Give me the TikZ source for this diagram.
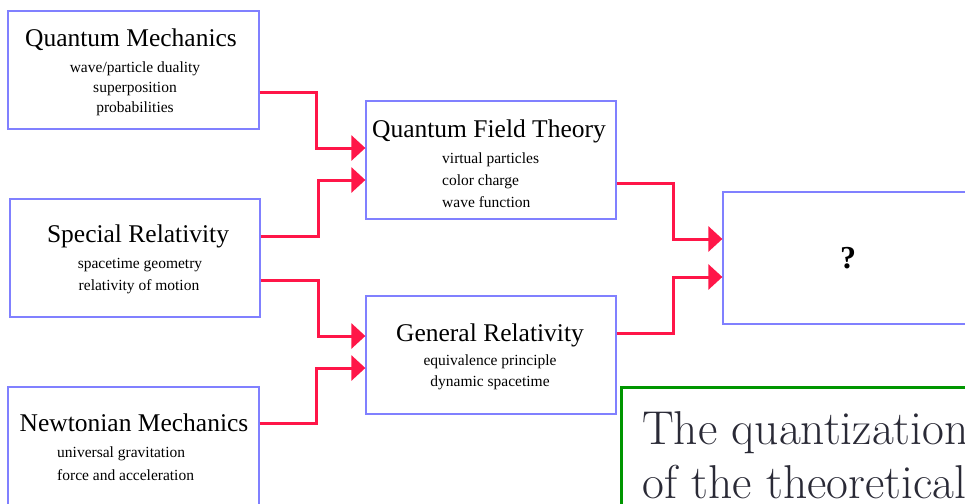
\documentclass[tikz,border=0pt]{standalone}
\usepackage{fontspec}
\newfontfamily\boxfont{Liberation Serif}
\usetikzlibrary{arrows.meta,calc}
\definecolor{boxblue}{RGB}{128,128,255}
\definecolor{linkred}{RGB}{255,22,72}
\definecolor{notegreen}{RGB}{0,150,0}
\definecolor{notetext}{RGB}{42,42,54}
\begin{document}
\begin{tikzpicture}[x=1pt,y=1pt,
  card/.style={draw=boxblue, line width=1.3pt, minimum height=118pt, inner sep=0pt},
  ttl/.style={anchor=base, inner sep=0pt, font=\boxfont\fontsize{25.5}{30}\selectfont},
  sub/.style={anchor=base, inner sep=0pt, font=\boxfont\fontsize{15.5}{20}\selectfont},
  subl/.style={sub, anchor=base west},
  link/.style={draw=linkred, line width=3pt, -{Triangle[length=14pt,width=25pt]}},
  notetxt/.style={anchor=base west, inner sep=0pt, text=notetext, font=\fontsize{47.5}{54}\selectfont}]
\useasboundingbox (0,0) rectangle (965,-503);

% boxes
\node[card, minimum width=251pt] (qm) at (133.5,-70) {};
\node[card, minimum width=250pt] (sr) at (135,-258) {};
\node[card, minimum width=251pt] (nm) at (133.5,-446) {};
\node[card, minimum width=250pt] (qft) at (491,-160) {};
\node[card, minimum width=250pt] (gr) at (491,-355) {};
\node[card, minimum width=250pt, minimum height=132pt,
      font=\boxfont\bfseries\fontsize{32}{32}\selectfont] (qq) at (848,-258) {?};

% Quantum Mechanics
\node[ttl] (qmt) at (131,-47) {Quantum Mechanics};
\node[sub] (qm1) at (135,-72) {wave/particle duality};
\node[sub] (qm2) at (135,-92) {superposition};
\node[sub] (qm3) at (135,-112) {probabilities};

% Special Relativity
\node[ttl] (srt) at (138,-242) {Special Relativity};
\node[sub] (sr1) at (140,-268) {spacetime geometry};
\node[sub] (sr2) at (139,-290) {relativity of motion};

% Newtonian Mechanics
\node[ttl] (nmt) at (134,-431) {Newtonian Mechanics};
\node[subl] (nm1) at (57,-457) {universal gravitation};
\node[subl] (nm2) at (57,-480) {force and acceleration};

% Quantum Field Theory
\node[ttl] (qftt) at (489,-137) {Quantum Field Theory};
\node[subl] (qft1) at (442,-163) {virtual particles};
\node[subl] (qft2) at (442,-185) {color charge};
\node[subl] (qft3) at (442,-207) {wave function};

% General Relativity
\node[ttl] (grt) at (490,-341) {General Relativity};
\node[sub] (gr1) at (490,-365) {equivalence principle};
\node[sub] (gr2) at (490,-386) {dynamic spacetime};

% connectors
\draw[link] ([yshift=-22pt]qm.east) -- ++(57,0) |- ([yshift=12pt]qft.west);
\draw[link] ([yshift=22pt]sr.east) -- ++(58,0) |- ([yshift=-20pt]qft.west);
\draw[link] ([yshift=-22pt]sr.east) -- ++(58,0) |- ([yshift=19pt]gr.west);
\draw[link] ([yshift=23pt]nm.east) -- ++(57,0) |- ([yshift=-13pt]gr.west);
\draw[link] ([yshift=-23pt]qft.east) -- ++(57,0) |- ([yshift=19pt]qq.west);
\draw[link] ([yshift=22pt]gr.east) -- ++(57,0) |- ([yshift=-19pt]qq.west);

% note box
\node[draw=notegreen, line width=3pt, minimum width=400pt, minimum height=200pt,
      anchor=north west, inner sep=0pt] (note) at (620,-386) {};
\node[notetxt] (note1) at (642,-444) {The quantization};
\node[notetxt] (note2) at (642,-498) {of the theoretical};
\end{tikzpicture}
\end{document}
